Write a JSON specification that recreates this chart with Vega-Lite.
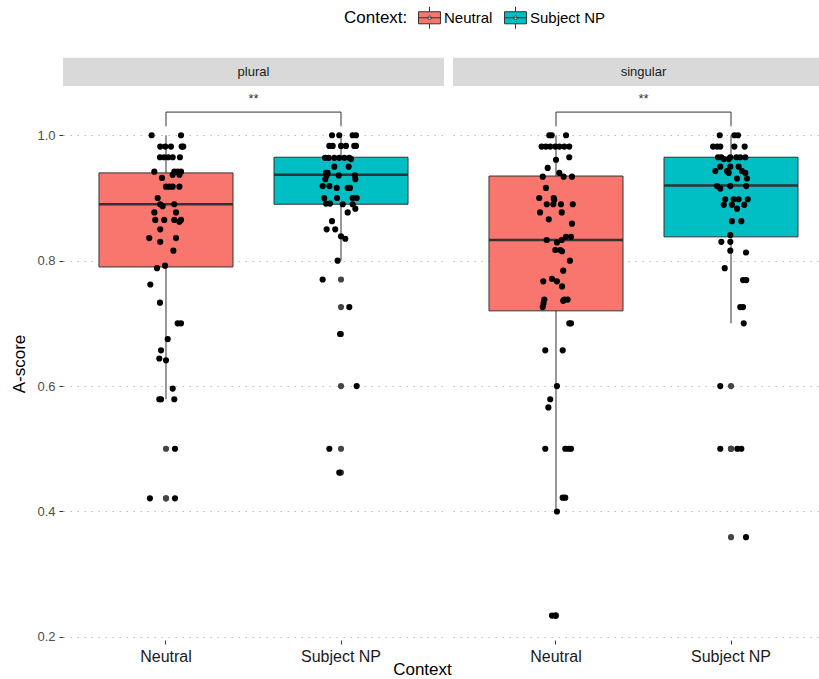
{
  "$schema": "https://vega.github.io/schema/vega-lite/v6.json",
  "background": "white",
  "padding": {"left": 10, "top": 6, "right": 5, "bottom": 0},
  "config": {
    "view": {"stroke": null},
    "font": "Liberation Sans",
    "axisX": {"domain": false, "grid": false, "labelAngle": 0, "labelFontSize": 16, "labelColor": "#1a1a1a", "labelPadding": 4, "tickColor": "#333333", "tickSize": 4, "title": null},
    "axisY": {"domain": false, "grid": true, "gridColor": "#bdbdbd", "gridDash": [1.5, 5.5], "gridWidth": 1.1, "labelFontSize": 13, "labelColor": "#4d4d4d", "labelPadding": 4, "tickColor": "#333333", "tickSize": 4, "titleFontSize": 17, "titleFontWeight": "normal", "titleColor": "#000000", "titlePadding": 8}
  },
  "title": {"text": "Context", "orient": "bottom", "anchor": "middle", "fontSize": 17, "fontWeight": "normal", "color": "#000000", "offset": -2},
  "data": {
    "values": [
      {"kind": "box", "number": "plural", "context": "Neutral", "lower": 0.579, "q1": 0.790, "median": 0.890, "q3": 0.940, "upper": 1.0},
      {"kind": "box", "number": "plural", "context": "Subject NP", "lower": 0.80, "q1": 0.890, "median": 0.937, "q3": 0.965, "upper": 1.0},
      {"kind": "box", "number": "singular", "context": "Neutral", "lower": 0.40, "q1": 0.720, "median": 0.833, "q3": 0.935, "upper": 1.0},
      {"kind": "box", "number": "singular", "context": "Subject NP", "lower": 0.70, "q1": 0.838, "median": 0.920, "q3": 0.965, "upper": 1.0},

      {"kind": "sig", "number": "plural", "label": "**"},
      {"kind": "sig", "number": "singular", "label": "**"},

      {"kind": "br", "number": "plural", "context": "Neutral", "score": 1.0143, "step": 1},
      {"kind": "br", "number": "plural", "context": "Neutral", "score": 1.037, "step": 2},
      {"kind": "br", "number": "plural", "context": "Subject NP", "score": 1.037, "step": 3},
      {"kind": "br", "number": "plural", "context": "Subject NP", "score": 1.0143, "step": 4},
      {"kind": "br", "number": "singular", "context": "Neutral", "score": 1.0143, "step": 1},
      {"kind": "br", "number": "singular", "context": "Neutral", "score": 1.037, "step": 2},
      {"kind": "br", "number": "singular", "context": "Subject NP", "score": 1.037, "step": 3},
      {"kind": "br", "number": "singular", "context": "Subject NP", "score": 1.0143, "step": 4},

      {"kind": "pt", "number": "plural", "context": "Neutral", "score": 1.0, "jitter": -0.107},
      {"kind": "pt", "number": "plural", "context": "Neutral", "score": 1.0, "jitter": 0.112},
      {"kind": "pt", "number": "plural", "context": "Neutral", "score": 0.982, "jitter": -0.043},
      {"kind": "pt", "number": "plural", "context": "Neutral", "score": 0.982, "jitter": -0.005},
      {"kind": "pt", "number": "plural", "context": "Neutral", "score": 0.982, "jitter": 0.037},
      {"kind": "pt", "number": "plural", "context": "Neutral", "score": 0.982, "jitter": 0.117},
      {"kind": "pt", "number": "plural", "context": "Neutral", "score": 0.982, "jitter": 0.129},
      {"kind": "pt", "number": "plural", "context": "Neutral", "score": 0.965, "jitter": -0.045},
      {"kind": "pt", "number": "plural", "context": "Neutral", "score": 0.965, "jitter": -0.013},
      {"kind": "pt", "number": "plural", "context": "Neutral", "score": 0.965, "jitter": 0.017},
      {"kind": "pt", "number": "plural", "context": "Neutral", "score": 0.965, "jitter": 0.05},
      {"kind": "pt", "number": "plural", "context": "Neutral", "score": 0.965, "jitter": 0.104},
      {"kind": "pt", "number": "plural", "context": "Neutral", "score": 0.942, "jitter": -0.087},
      {"kind": "pt", "number": "plural", "context": "Neutral", "score": 0.942, "jitter": 0.062},
      {"kind": "pt", "number": "plural", "context": "Neutral", "score": 0.942, "jitter": 0.087},
      {"kind": "pt", "number": "plural", "context": "Neutral", "score": 0.942, "jitter": 0.112},
      {"kind": "pt", "number": "plural", "context": "Neutral", "score": 0.937, "jitter": 0.1},
      {"kind": "pt", "number": "plural", "context": "Neutral", "score": 0.937, "jitter": 0.05},
      {"kind": "pt", "number": "plural", "context": "Neutral", "score": 0.932, "jitter": -0.03},
      {"kind": "pt", "number": "plural", "context": "Neutral", "score": 0.918, "jitter": 0.0},
      {"kind": "pt", "number": "plural", "context": "Neutral", "score": 0.918, "jitter": 0.025},
      {"kind": "pt", "number": "plural", "context": "Neutral", "score": 0.918, "jitter": 0.05},
      {"kind": "pt", "number": "plural", "context": "Neutral", "score": 0.918, "jitter": 0.1},
      {"kind": "pt", "number": "plural", "context": "Neutral", "score": 0.90, "jitter": -0.062},
      {"kind": "pt", "number": "plural", "context": "Neutral", "score": 0.89, "jitter": -0.043},
      {"kind": "pt", "number": "plural", "context": "Neutral", "score": 0.89, "jitter": 0.062},
      {"kind": "pt", "number": "plural", "context": "Neutral", "score": 0.887, "jitter": -0.025},
      {"kind": "pt", "number": "plural", "context": "Neutral", "score": 0.877, "jitter": -0.087},
      {"kind": "pt", "number": "plural", "context": "Neutral", "score": 0.877, "jitter": 0.075},
      {"kind": "pt", "number": "plural", "context": "Neutral", "score": 0.865, "jitter": -0.08},
      {"kind": "pt", "number": "plural", "context": "Neutral", "score": 0.865, "jitter": -0.013},
      {"kind": "pt", "number": "plural", "context": "Neutral", "score": 0.865, "jitter": 0.062},
      {"kind": "pt", "number": "plural", "context": "Neutral", "score": 0.865, "jitter": 0.112},
      {"kind": "pt", "number": "plural", "context": "Neutral", "score": 0.862, "jitter": 0.1},
      {"kind": "pt", "number": "plural", "context": "Neutral", "score": 0.85, "jitter": -0.043},
      {"kind": "pt", "number": "plural", "context": "Neutral", "score": 0.836, "jitter": -0.125},
      {"kind": "pt", "number": "plural", "context": "Neutral", "score": 0.836, "jitter": 0.075},
      {"kind": "pt", "number": "plural", "context": "Neutral", "score": 0.83, "jitter": -0.043},
      {"kind": "pt", "number": "plural", "context": "Neutral", "score": 0.816, "jitter": 0.055},
      {"kind": "pt", "number": "plural", "context": "Neutral", "score": 0.792, "jitter": -0.007},
      {"kind": "pt", "number": "plural", "context": "Neutral", "score": 0.788, "jitter": -0.067},
      {"kind": "pt", "number": "plural", "context": "Neutral", "score": 0.762, "jitter": -0.117},
      {"kind": "pt", "number": "plural", "context": "Neutral", "score": 0.733, "jitter": -0.045},
      {"kind": "pt", "number": "plural", "context": "Neutral", "score": 0.70, "jitter": 0.087},
      {"kind": "pt", "number": "plural", "context": "Neutral", "score": 0.70, "jitter": 0.112},
      {"kind": "pt", "number": "plural", "context": "Neutral", "score": 0.675, "jitter": 0.013},
      {"kind": "pt", "number": "plural", "context": "Neutral", "score": 0.657, "jitter": -0.037},
      {"kind": "pt", "number": "plural", "context": "Neutral", "score": 0.644, "jitter": -0.05},
      {"kind": "pt", "number": "plural", "context": "Neutral", "score": 0.641, "jitter": 0.0},
      {"kind": "pt", "number": "plural", "context": "Neutral", "score": 0.596, "jitter": 0.05},
      {"kind": "pt", "number": "plural", "context": "Neutral", "score": 0.579, "jitter": -0.05},
      {"kind": "pt", "number": "plural", "context": "Neutral", "score": 0.579, "jitter": -0.037},
      {"kind": "pt", "number": "plural", "context": "Neutral", "score": 0.579, "jitter": 0.062},
      {"kind": "pt", "number": "plural", "context": "Neutral", "score": 0.50, "jitter": 0.067},
      {"kind": "pt", "number": "plural", "context": "Neutral", "score": 0.421, "jitter": -0.12},
      {"kind": "pt", "number": "plural", "context": "Neutral", "score": 0.421, "jitter": 0.067},

      {"kind": "pt", "number": "plural", "context": "Subject NP", "score": 1.0, "jitter": -0.067},
      {"kind": "pt", "number": "plural", "context": "Subject NP", "score": 1.0, "jitter": -0.013},
      {"kind": "pt", "number": "plural", "context": "Subject NP", "score": 1.0, "jitter": 0.087},
      {"kind": "pt", "number": "plural", "context": "Subject NP", "score": 1.0, "jitter": 0.112},
      {"kind": "pt", "number": "plural", "context": "Subject NP", "score": 0.983, "jitter": -0.087},
      {"kind": "pt", "number": "plural", "context": "Subject NP", "score": 0.983, "jitter": -0.062},
      {"kind": "pt", "number": "plural", "context": "Subject NP", "score": 0.983, "jitter": 0.0},
      {"kind": "pt", "number": "plural", "context": "Subject NP", "score": 0.983, "jitter": 0.037},
      {"kind": "pt", "number": "plural", "context": "Subject NP", "score": 0.983, "jitter": 0.099},
      {"kind": "pt", "number": "plural", "context": "Subject NP", "score": 0.983, "jitter": 0.112},
      {"kind": "pt", "number": "plural", "context": "Subject NP", "score": 0.964, "jitter": -0.119},
      {"kind": "pt", "number": "plural", "context": "Subject NP", "score": 0.964, "jitter": -0.092},
      {"kind": "pt", "number": "plural", "context": "Subject NP", "score": 0.964, "jitter": -0.05},
      {"kind": "pt", "number": "plural", "context": "Subject NP", "score": 0.964, "jitter": -0.013},
      {"kind": "pt", "number": "plural", "context": "Subject NP", "score": 0.964, "jitter": 0.025},
      {"kind": "pt", "number": "plural", "context": "Subject NP", "score": 0.964, "jitter": 0.062},
      {"kind": "pt", "number": "plural", "context": "Subject NP", "score": 0.962, "jitter": 0.075},
      {"kind": "pt", "number": "plural", "context": "Subject NP", "score": 0.95, "jitter": -0.05},
      {"kind": "pt", "number": "plural", "context": "Subject NP", "score": 0.95, "jitter": 0.057},
      {"kind": "pt", "number": "plural", "context": "Subject NP", "score": 0.94, "jitter": -0.112},
      {"kind": "pt", "number": "plural", "context": "Subject NP", "score": 0.94, "jitter": -0.1},
      {"kind": "pt", "number": "plural", "context": "Subject NP", "score": 0.936, "jitter": -0.107},
      {"kind": "pt", "number": "plural", "context": "Subject NP", "score": 0.936, "jitter": -0.017},
      {"kind": "pt", "number": "plural", "context": "Subject NP", "score": 0.936, "jitter": 0.104},
      {"kind": "pt", "number": "plural", "context": "Subject NP", "score": 0.93, "jitter": 0.107},
      {"kind": "pt", "number": "plural", "context": "Subject NP", "score": 0.93, "jitter": -0.117},
      {"kind": "pt", "number": "plural", "context": "Subject NP", "score": 0.919, "jitter": -0.137},
      {"kind": "pt", "number": "plural", "context": "Subject NP", "score": 0.919, "jitter": -0.087},
      {"kind": "pt", "number": "plural", "context": "Subject NP", "score": 0.916, "jitter": -0.032},
      {"kind": "pt", "number": "plural", "context": "Subject NP", "score": 0.916, "jitter": 0.05},
      {"kind": "pt", "number": "plural", "context": "Subject NP", "score": 0.916, "jitter": 0.067},
      {"kind": "pt", "number": "plural", "context": "Subject NP", "score": 0.90, "jitter": -0.125},
      {"kind": "pt", "number": "plural", "context": "Subject NP", "score": 0.90, "jitter": -0.03},
      {"kind": "pt", "number": "plural", "context": "Subject NP", "score": 0.90, "jitter": 0.087},
      {"kind": "pt", "number": "plural", "context": "Subject NP", "score": 0.90, "jitter": 0.117},
      {"kind": "pt", "number": "plural", "context": "Subject NP", "score": 0.891, "jitter": -0.112},
      {"kind": "pt", "number": "plural", "context": "Subject NP", "score": 0.891, "jitter": -0.082},
      {"kind": "pt", "number": "plural", "context": "Subject NP", "score": 0.89, "jitter": 0.013},
      {"kind": "pt", "number": "plural", "context": "Subject NP", "score": 0.89, "jitter": 0.087},
      {"kind": "pt", "number": "plural", "context": "Subject NP", "score": 0.883, "jitter": 0.107},
      {"kind": "pt", "number": "plural", "context": "Subject NP", "score": 0.877, "jitter": 0.05},
      {"kind": "pt", "number": "plural", "context": "Subject NP", "score": 0.863, "jitter": -0.067},
      {"kind": "pt", "number": "plural", "context": "Subject NP", "score": 0.85, "jitter": -0.107},
      {"kind": "pt", "number": "plural", "context": "Subject NP", "score": 0.85, "jitter": -0.043},
      {"kind": "pt", "number": "plural", "context": "Subject NP", "score": 0.839, "jitter": 0.0},
      {"kind": "pt", "number": "plural", "context": "Subject NP", "score": 0.835, "jitter": 0.032},
      {"kind": "pt", "number": "plural", "context": "Subject NP", "score": 0.80, "jitter": -0.025},
      {"kind": "pt", "number": "plural", "context": "Subject NP", "score": 0.77, "jitter": -0.137},
      {"kind": "pt", "number": "plural", "context": "Subject NP", "score": 0.726, "jitter": 0.062},
      {"kind": "pt", "number": "plural", "context": "Subject NP", "score": 0.683, "jitter": -0.007},
      {"kind": "pt", "number": "plural", "context": "Subject NP", "score": 0.60, "jitter": 0.117},
      {"kind": "pt", "number": "plural", "context": "Subject NP", "score": 0.50, "jitter": -0.087},
      {"kind": "pt", "number": "plural", "context": "Subject NP", "score": 0.462, "jitter": -0.013},

      {"kind": "pt", "number": "singular", "context": "Neutral", "score": 1.0, "jitter": -0.05},
      {"kind": "pt", "number": "singular", "context": "Neutral", "score": 1.0, "jitter": -0.032},
      {"kind": "pt", "number": "singular", "context": "Neutral", "score": 1.0, "jitter": 0.075},
      {"kind": "pt", "number": "singular", "context": "Neutral", "score": 0.982, "jitter": -0.107},
      {"kind": "pt", "number": "singular", "context": "Neutral", "score": 0.982, "jitter": -0.075},
      {"kind": "pt", "number": "singular", "context": "Neutral", "score": 0.982, "jitter": -0.043},
      {"kind": "pt", "number": "singular", "context": "Neutral", "score": 0.982, "jitter": -0.005},
      {"kind": "pt", "number": "singular", "context": "Neutral", "score": 0.982, "jitter": 0.025},
      {"kind": "pt", "number": "singular", "context": "Neutral", "score": 0.982, "jitter": 0.062},
      {"kind": "pt", "number": "singular", "context": "Neutral", "score": 0.982, "jitter": 0.099},
      {"kind": "pt", "number": "singular", "context": "Neutral", "score": 0.965, "jitter": 0.099},
      {"kind": "pt", "number": "singular", "context": "Neutral", "score": 0.961, "jitter": 0.0},
      {"kind": "pt", "number": "singular", "context": "Neutral", "score": 0.948, "jitter": -0.062},
      {"kind": "pt", "number": "singular", "context": "Neutral", "score": 0.94, "jitter": 0.025},
      {"kind": "pt", "number": "singular", "context": "Neutral", "score": 0.934, "jitter": -0.099},
      {"kind": "pt", "number": "singular", "context": "Neutral", "score": 0.934, "jitter": 0.057},
      {"kind": "pt", "number": "singular", "context": "Neutral", "score": 0.934, "jitter": 0.119},
      {"kind": "pt", "number": "singular", "context": "Neutral", "score": 0.916, "jitter": -0.075},
      {"kind": "pt", "number": "singular", "context": "Neutral", "score": 0.90, "jitter": -0.125},
      {"kind": "pt", "number": "singular", "context": "Neutral", "score": 0.90, "jitter": -0.017},
      {"kind": "pt", "number": "singular", "context": "Neutral", "score": 0.897, "jitter": -0.013},
      {"kind": "pt", "number": "singular", "context": "Neutral", "score": 0.89, "jitter": -0.069},
      {"kind": "pt", "number": "singular", "context": "Neutral", "score": 0.89, "jitter": -0.02},
      {"kind": "pt", "number": "singular", "context": "Neutral", "score": 0.89, "jitter": 0.037},
      {"kind": "pt", "number": "singular", "context": "Neutral", "score": 0.89, "jitter": 0.125},
      {"kind": "pt", "number": "singular", "context": "Neutral", "score": 0.877, "jitter": -0.119},
      {"kind": "pt", "number": "singular", "context": "Neutral", "score": 0.877, "jitter": 0.043},
      {"kind": "pt", "number": "singular", "context": "Neutral", "score": 0.866, "jitter": -0.054},
      {"kind": "pt", "number": "singular", "context": "Neutral", "score": 0.859, "jitter": 0.119},
      {"kind": "pt", "number": "singular", "context": "Neutral", "score": 0.838, "jitter": 0.112},
      {"kind": "pt", "number": "singular", "context": "Neutral", "score": 0.838, "jitter": 0.075},
      {"kind": "pt", "number": "singular", "context": "Neutral", "score": 0.833, "jitter": -0.069},
      {"kind": "pt", "number": "singular", "context": "Neutral", "score": 0.833, "jitter": 0.043},
      {"kind": "pt", "number": "singular", "context": "Neutral", "score": 0.829, "jitter": 0.007},
      {"kind": "pt", "number": "singular", "context": "Neutral", "score": 0.817, "jitter": -0.005},
      {"kind": "pt", "number": "singular", "context": "Neutral", "score": 0.817, "jitter": 0.032},
      {"kind": "pt", "number": "singular", "context": "Neutral", "score": 0.815, "jitter": 0.045},
      {"kind": "pt", "number": "singular", "context": "Neutral", "score": 0.80, "jitter": 0.104},
      {"kind": "pt", "number": "singular", "context": "Neutral", "score": 0.784, "jitter": 0.054},
      {"kind": "pt", "number": "singular", "context": "Neutral", "score": 0.771, "jitter": -0.03},
      {"kind": "pt", "number": "singular", "context": "Neutral", "score": 0.767, "jitter": -0.095},
      {"kind": "pt", "number": "singular", "context": "Neutral", "score": 0.767, "jitter": 0.007},
      {"kind": "pt", "number": "singular", "context": "Neutral", "score": 0.759, "jitter": 0.045},
      {"kind": "pt", "number": "singular", "context": "Neutral", "score": 0.738, "jitter": -0.087},
      {"kind": "pt", "number": "singular", "context": "Neutral", "score": 0.738, "jitter": 0.062},
      {"kind": "pt", "number": "singular", "context": "Neutral", "score": 0.738, "jitter": 0.087},
      {"kind": "pt", "number": "singular", "context": "Neutral", "score": 0.736, "jitter": 0.054},
      {"kind": "pt", "number": "singular", "context": "Neutral", "score": 0.732, "jitter": -0.093},
      {"kind": "pt", "number": "singular", "context": "Neutral", "score": 0.726, "jitter": -0.099},
      {"kind": "pt", "number": "singular", "context": "Neutral", "score": 0.70, "jitter": 0.099},
      {"kind": "pt", "number": "singular", "context": "Neutral", "score": 0.70, "jitter": 0.112},
      {"kind": "pt", "number": "singular", "context": "Neutral", "score": 0.657, "jitter": -0.08},
      {"kind": "pt", "number": "singular", "context": "Neutral", "score": 0.657, "jitter": 0.05},
      {"kind": "pt", "number": "singular", "context": "Neutral", "score": 0.60, "jitter": 0.007},
      {"kind": "pt", "number": "singular", "context": "Neutral", "score": 0.579, "jitter": -0.043},
      {"kind": "pt", "number": "singular", "context": "Neutral", "score": 0.566, "jitter": -0.057},
      {"kind": "pt", "number": "singular", "context": "Neutral", "score": 0.50, "jitter": -0.08},
      {"kind": "pt", "number": "singular", "context": "Neutral", "score": 0.50, "jitter": 0.069},
      {"kind": "pt", "number": "singular", "context": "Neutral", "score": 0.50, "jitter": 0.095},
      {"kind": "pt", "number": "singular", "context": "Neutral", "score": 0.50, "jitter": 0.112},
      {"kind": "pt", "number": "singular", "context": "Neutral", "score": 0.422, "jitter": 0.05},
      {"kind": "pt", "number": "singular", "context": "Neutral", "score": 0.422, "jitter": 0.069},
      {"kind": "pt", "number": "singular", "context": "Neutral", "score": 0.40, "jitter": 0.007},
      {"kind": "pt", "number": "singular", "context": "Neutral", "score": 0.234, "jitter": -0.03},
      {"kind": "pt", "number": "singular", "context": "Neutral", "score": 0.234, "jitter": -0.005},

      {"kind": "pt", "number": "singular", "context": "Subject NP", "score": 1.0, "jitter": -0.084},
      {"kind": "pt", "number": "singular", "context": "Subject NP", "score": 1.0, "jitter": 0.025},
      {"kind": "pt", "number": "singular", "context": "Subject NP", "score": 1.0, "jitter": 0.052},
      {"kind": "pt", "number": "singular", "context": "Subject NP", "score": 0.982, "jitter": -0.134},
      {"kind": "pt", "number": "singular", "context": "Subject NP", "score": 0.982, "jitter": -0.104},
      {"kind": "pt", "number": "singular", "context": "Subject NP", "score": 0.982, "jitter": -0.08},
      {"kind": "pt", "number": "singular", "context": "Subject NP", "score": 0.982, "jitter": 0.025},
      {"kind": "pt", "number": "singular", "context": "Subject NP", "score": 0.982, "jitter": 0.102},
      {"kind": "pt", "number": "singular", "context": "Subject NP", "score": 0.965, "jitter": -0.097},
      {"kind": "pt", "number": "singular", "context": "Subject NP", "score": 0.965, "jitter": -0.072},
      {"kind": "pt", "number": "singular", "context": "Subject NP", "score": 0.965, "jitter": -0.005},
      {"kind": "pt", "number": "singular", "context": "Subject NP", "score": 0.965, "jitter": 0.04},
      {"kind": "pt", "number": "singular", "context": "Subject NP", "score": 0.965, "jitter": 0.069},
      {"kind": "pt", "number": "singular", "context": "Subject NP", "score": 0.965, "jitter": 0.107},
      {"kind": "pt", "number": "singular", "context": "Subject NP", "score": 0.962, "jitter": -0.054},
      {"kind": "pt", "number": "singular", "context": "Subject NP", "score": 0.962, "jitter": -0.017},
      {"kind": "pt", "number": "singular", "context": "Subject NP", "score": 0.95, "jitter": -0.08},
      {"kind": "pt", "number": "singular", "context": "Subject NP", "score": 0.95, "jitter": -0.005},
      {"kind": "pt", "number": "singular", "context": "Subject NP", "score": 0.95, "jitter": 0.057},
      {"kind": "pt", "number": "singular", "context": "Subject NP", "score": 0.943, "jitter": -0.117},
      {"kind": "pt", "number": "singular", "context": "Subject NP", "score": 0.943, "jitter": -0.03},
      {"kind": "pt", "number": "singular", "context": "Subject NP", "score": 0.943, "jitter": 0.082},
      {"kind": "pt", "number": "singular", "context": "Subject NP", "score": 0.94, "jitter": -0.017},
      {"kind": "pt", "number": "singular", "context": "Subject NP", "score": 0.94, "jitter": 0.107},
      {"kind": "pt", "number": "singular", "context": "Subject NP", "score": 0.931, "jitter": 0.045},
      {"kind": "pt", "number": "singular", "context": "Subject NP", "score": 0.931, "jitter": 0.119},
      {"kind": "pt", "number": "singular", "context": "Subject NP", "score": 0.919, "jitter": -0.104},
      {"kind": "pt", "number": "singular", "context": "Subject NP", "score": 0.919, "jitter": -0.005},
      {"kind": "pt", "number": "singular", "context": "Subject NP", "score": 0.919, "jitter": 0.114},
      {"kind": "pt", "number": "singular", "context": "Subject NP", "score": 0.915, "jitter": -0.08},
      {"kind": "pt", "number": "singular", "context": "Subject NP", "score": 0.898, "jitter": -0.043},
      {"kind": "pt", "number": "singular", "context": "Subject NP", "score": 0.898, "jitter": 0.02},
      {"kind": "pt", "number": "singular", "context": "Subject NP", "score": 0.898, "jitter": 0.057},
      {"kind": "pt", "number": "singular", "context": "Subject NP", "score": 0.898, "jitter": 0.125},
      {"kind": "pt", "number": "singular", "context": "Subject NP", "score": 0.889, "jitter": -0.054},
      {"kind": "pt", "number": "singular", "context": "Subject NP", "score": 0.889, "jitter": 0.007},
      {"kind": "pt", "number": "singular", "context": "Subject NP", "score": 0.889, "jitter": 0.099},
      {"kind": "pt", "number": "singular", "context": "Subject NP", "score": 0.883, "jitter": 0.045},
      {"kind": "pt", "number": "singular", "context": "Subject NP", "score": 0.863, "jitter": 0.007},
      {"kind": "pt", "number": "singular", "context": "Subject NP", "score": 0.863, "jitter": 0.077},
      {"kind": "pt", "number": "singular", "context": "Subject NP", "score": 0.841, "jitter": -0.005},
      {"kind": "pt", "number": "singular", "context": "Subject NP", "score": 0.83, "jitter": -0.072},
      {"kind": "pt", "number": "singular", "context": "Subject NP", "score": 0.83, "jitter": -0.005},
      {"kind": "pt", "number": "singular", "context": "Subject NP", "score": 0.816, "jitter": -0.005},
      {"kind": "pt", "number": "singular", "context": "Subject NP", "score": 0.813, "jitter": 0.112},
      {"kind": "pt", "number": "singular", "context": "Subject NP", "score": 0.788, "jitter": -0.047},
      {"kind": "pt", "number": "singular", "context": "Subject NP", "score": 0.769, "jitter": 0.09},
      {"kind": "pt", "number": "singular", "context": "Subject NP", "score": 0.769, "jitter": 0.114},
      {"kind": "pt", "number": "singular", "context": "Subject NP", "score": 0.726, "jitter": 0.069},
      {"kind": "pt", "number": "singular", "context": "Subject NP", "score": 0.726, "jitter": 0.09},
      {"kind": "pt", "number": "singular", "context": "Subject NP", "score": 0.70, "jitter": 0.095},
      {"kind": "pt", "number": "singular", "context": "Subject NP", "score": 0.60, "jitter": -0.08},
      {"kind": "pt", "number": "singular", "context": "Subject NP", "score": 0.50, "jitter": -0.08},
      {"kind": "pt", "number": "singular", "context": "Subject NP", "score": 0.50, "jitter": 0.047},
      {"kind": "pt", "number": "singular", "context": "Subject NP", "score": 0.50, "jitter": 0.077},
      {"kind": "pt", "number": "singular", "context": "Subject NP", "score": 0.359, "jitter": 0.112}
    ]
  },
  "facet": {"column": {"field": "number", "type": "nominal", "header": {"title": null, "labels": false}}},
  "spacing": 9,
  "spec": {
    "width": 381,
    "height": 553,
    "resolve": {"scale": {"xOffset": "independent"}},
    "layer": [
      {
        "transform": [{"filter": "datum.kind === 'box'"}],
        "mark": {"type": "rule", "color": "#333333", "strokeWidth": 1},
        "encoding": {
          "x": {"field": "context", "type": "nominal", "scale": {"paddingInner": 0.2343, "paddingOuter": 0.2057}},
          "y": {
            "field": "lower", "type": "quantitative", "title": "A-score",
            "scale": {"domain": [0.195, 1.077], "nice": false, "zero": false},
            "axis": {"values": [0.2, 0.4, 0.6, 0.8, 1.0], "format": ".1f"}
          },
          "y2": {"field": "upper"}
        }
      },
      {
        "transform": [{"filter": "datum.kind === 'box'"}],
        "mark": {"type": "bar", "stroke": "#333333", "strokeWidth": 1, "opacity": 1},
        "encoding": {
          "x": {"field": "context", "type": "nominal"},
          "y": {"field": "q1", "type": "quantitative", "title": "A-score"},
          "y2": {"field": "q3"},
          "color": {
            "field": "context", "type": "nominal",
            "scale": {"domain": ["Neutral", "Subject NP"], "range": ["#F8766D", "#00BFC4"]},
            "legend": {
              "title": "Context:", "orient": "none", "legendX": 281, "legendY": -81,
              "direction": "horizontal", "titleOrient": "left", "titleFontSize": 17, "titleFontWeight": "normal",
              "titleColor": "#000000", "titlePadding": 10, "labelFontSize": 15, "labelColor": "#000000",
              "labelOffset": 3, "columnPadding": 9,
              "symbolType": "M-1,-0.55H1V0.55H-1Z M0,-1V-0.55 M0,0.55V1 M-1,0H1 M-0.16,0A0.16,0.16 0 1,0 0.16,0A0.16,0.16 0 1,0 -0.16,0",
              "symbolSize": 480, "symbolStrokeColor": "#333333", "symbolStrokeWidth": 1, "symbolOpacity": 1
            }
          }
        }
      },
      {
        "transform": [{"filter": "datum.kind === 'box'"}],
        "mark": {"type": "bar", "stroke": "#333333", "strokeWidth": 2.4, "fillOpacity": 0},
        "encoding": {
          "x": {"field": "context", "type": "nominal"},
          "y": {"field": "median", "type": "quantitative", "title": "A-score"},
          "y2": {"field": "median"}
        }
      },
      {
        "transform": [
          {"joinaggregate": [{"op": "max", "field": "lower", "as": "lo"}], "groupby": ["number", "context"]},
          {"filter": "datum.kind === 'pt' && datum.score < datum.lo"}
        ],
        "mark": {"type": "circle", "color": "#444444", "opacity": 1, "size": 38},
        "encoding": {
          "x": {"field": "context", "type": "nominal"},
          "y": {"field": "score", "type": "quantitative", "title": "A-score"}
        }
      },
      {
        "transform": [{"filter": "datum.kind === 'pt'"}],
        "mark": {"type": "circle", "color": "#000000", "opacity": 1, "size": 38},
        "encoding": {
          "x": {"field": "context", "type": "nominal"},
          "xOffset": {"field": "jitter", "type": "quantitative", "scale": {"domain": [-0.5, 0.5]}},
          "y": {"field": "score", "type": "quantitative", "title": "A-score"}
        }
      },
      {
        "transform": [{"filter": "datum.kind === 'br'"}],
        "mark": {"type": "line", "color": "#333333", "strokeWidth": 1},
        "encoding": {
          "x": {"field": "context", "type": "nominal"},
          "y": {"field": "score", "type": "quantitative", "title": "A-score"},
          "order": {"field": "step", "type": "quantitative"}
        }
      },
      {
        "transform": [{"filter": "datum.kind === 'sig'"}],
        "mark": {"type": "text", "fontSize": 13, "color": "#333333", "baseline": "middle"},
        "encoding": {
          "y": {"datum": 1.058, "type": "quantitative"},
          "text": {"field": "label"}
        }
      },
      {
        "transform": [{"filter": "datum.kind === 'sig'"}],
        "mark": {"type": "rect", "color": "#d9d9d9"},
        "encoding": {
          "x": {"value": 0},
          "x2": {"value": "width"},
          "y": {"datum": 1.1236, "type": "quantitative"},
          "y2": {"datum": 1.0784}
        }
      },
      {
        "transform": [{"filter": "datum.kind === 'sig'"}],
        "mark": {"type": "text", "fontSize": 13, "color": "#1a1a1a", "baseline": "middle"},
        "encoding": {
          "y": {"datum": 1.1004, "type": "quantitative"},
          "text": {"field": "number"}
        }
      }
    ]
  }
}
